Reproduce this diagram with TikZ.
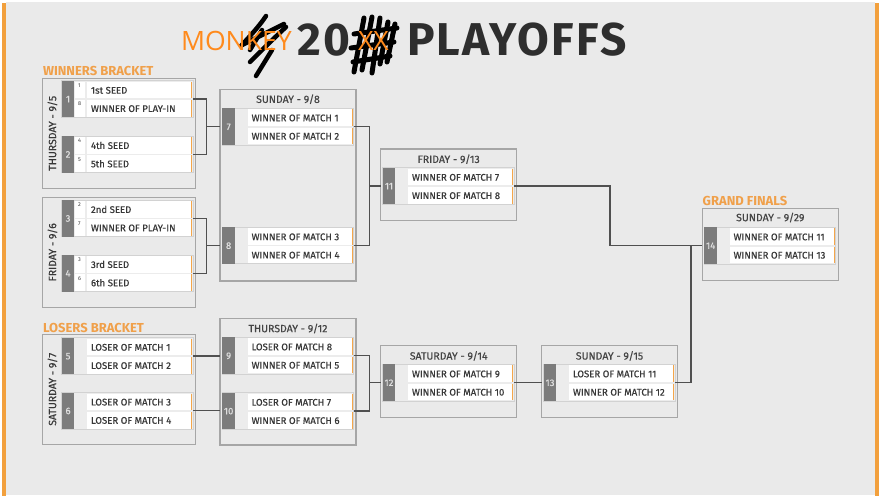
\documentclass[tikz,border=0pt]{standalone}
\usepackage{fontspec}
\setmainfont{Fira Sans}
\newfontfamily\monkeyfont{Open Sans}
\newfontfamily\cellfont[FakeBold=0.5]{Fira Sans}
\newfontfamily\titlefont[LetterSpace=5]{Fira Sans}
\usetikzlibrary{calc}
\definecolor{bgc}{HTML}{EAEAEA}
\definecolor{orangebar}{HTML}{F2A03D}
\definecolor{titleorange}{HTML}{FF8A1C}
\definecolor{hdrorange}{HTML}{F0A04A}
\definecolor{boxline}{HTML}{A6A6A6}
\definecolor{grpline}{HTML}{D2D2D2}
\definecolor{grpfill}{HTML}{ECECEC}
\definecolor{tabc}{HTML}{7C7C7C}
\definecolor{textc}{HTML}{383838}
\definecolor{hdrc}{HTML}{444444}
\definecolor{connc}{HTML}{505050}
\definecolor{titlec}{HTML}{2E2E2E}
\definecolor{celloran}{HTML}{F4A64A}

\tikzset{
  daybox/.style={draw=boxline, line width=1.3pt, fill=bgc, rectangle, anchor=north west},
  grp/.style={draw=grpline, line width=0.8pt, fill=grpfill, rectangle, minimum width=131.5pt, minimum height=36.7pt},
  tabn/.style={fill=tabc, rectangle, minimum width=12.7pt, minimum height=36.7pt, text=white!88!black, font=\cellfont\fontsize{9.5}{10}\selectfont, text height=6.6pt, text depth=0pt},
  cellbg/.style={fill=white, rectangle, minimum width=104.7pt, minimum height=16.7pt},
  seedbg/.style={fill=white, rectangle, minimum width=10.3pt, minimum height=16.7pt},
  celltxt/.style={text=textc, font=\cellfont\fontsize{9.6}{10}\selectfont},
  seedtxt/.style={text=textc, font=\fontsize{5.5}{6}\selectfont, anchor=north west},
  hdr/.style={text=hdrc, font=\cellfont\fontsize{10.5}{11}\selectfont, anchor=base},
  rotlbl/.style={text=textc, font=\cellfont\fontsize{10.5}{11}\selectfont, rotate=90, text height=7.3pt, text depth=0pt},
  brk/.style={text=hdrorange, font=\bfseries\fontsize{13}{14}\selectfont, anchor=base west},
  obar/.style={draw=celloran, line width=1.5pt},
  conn/.style={draw=connc, line width=1.2pt},
  scrib/.style={draw=black, line width=4.5pt, line cap=round, line join=round},
  ttl/.style={anchor=base west, text=titlec, font=\titlefont\bfseries\fontsize{46}{47}\selectfont},
  mky/.style={anchor=base west, text=titleorange, font=\monkeyfont\fontsize{26.6}{27}\selectfont},
}

\newcommand\mymatch[6]{%
  \node[grp, anchor=north west] (#1) at (#2,#3) {};
  \node[tabn, anchor=north west] (#1n) at (#1.north west) {#4};
  \node[cellbg, anchor=north west] (#1a) at ($(#1.north west)+(25.3,1)$) {};
  \node[cellbg, anchor=north west] (#1b) at ($(#1.north west)+(25.3,19.3)$) {};
  \node[celltxt, anchor=base west] (#1at) at ($(#1a.west)+(4,3.6)$) {#5};
  \node[celltxt, anchor=base west] (#1bt) at ($(#1b.west)+(4,3.6)$) {#6};
  \draw[obar] (#1a.north east) -- (#1a.south east);
  \draw[obar] (#1b.north east) -- (#1b.south east);
}
\newcommand\myseeds[3]{%
  \node[seedbg, anchor=north west] (#1sa) at ($(#1.north west)+(13.3,1)$) {};
  \node[seedbg, anchor=north west] (#1sb) at ($(#1.north west)+(13.3,19.3)$) {};
  \node[seedtxt] (#1sat) at ($(#1sa.north west)+(3,2.2)$) {#2};
  \node[seedtxt] (#1sbt) at ($(#1sb.north west)+(3,2.2)$) {#3};
}

\begin{document}
\begin{tikzpicture}[x=1pt,y=-1pt, every node/.style={inner sep=0pt, outer sep=0pt}]
\useasboundingbox (0,0) rectangle (879,497);
\fill[white] (0,0) rectangle (879,497);
\fill[bgc] (6,2) rectangle (875,495);
\fill[orangebar] (2,3) rectangle (6,496);
\fill[orangebar] (875,3) rectangle (878.5,496);

% title scribbles
\draw[scrib] (266,16) .. controls (258,28) and (248,38) .. (241,46);
\draw[scrib] (242,45) -- (284,24);
\draw[scrib] (286,27) .. controls (272,40) and (260,52) .. (250,62);
\draw[scrib] (272,50) -- (256,76);
\draw[scrib] (262,30) -- (250,50);
\draw[scrib, line width=5pt] (364,18) -- (354,72);
\draw[scrib, line width=5pt] (372,17) -- (362,70);
\draw[scrib, line width=5pt] (380,18) -- (372,73);
\draw[scrib, line width=5pt] (395,24) -- (387,62);
\draw[scrib, line width=5pt] (388,22) -- (380,64);
\draw[scrib, line width=5pt] (354,34) -- (397,28);
\draw[scrib, line width=5pt] (351,48) -- (394,42);
\draw[scrib, line width=5pt] (353,62) -- (390,56);

% title
\node[ttl] (t20) at (297,56) {20};
\node[ttl] (tplay) at (407,56) {PLAYOFFS};
\node[mky] (tmonkey) at (181,50.7) {MONKEY};
\node[mky] (txx) at (358,50.7) {XX};

% bracket labels
\node[brk] (lwin) at (43,76) {WINNERS BRACKET};
\node[brk] (llos) at (43,332.5) {LOSERS BRACKET};
\node[brk] (lgf) at (702.7,206) {GRAND FINALS};

% day boxes
\node[daybox, minimum width=153pt, minimum height=110pt] (thu95) at (42.7,78.3) {};
\node[daybox, minimum width=153pt, minimum height=110pt] (fri96) at (42.7,197.3) {};
\node[daybox, minimum width=153pt, minimum height=110pt] (sat97) at (42.7,334.3) {};
\node[daybox, minimum width=136pt, minimum height=191.7pt] (sun98) at (220,89.3) {};
\node[daybox, minimum width=136pt, minimum height=126.7pt] (thu912) at (220,318.3) {};
\node[daybox, minimum width=136pt, minimum height=71.7pt] (fri913) at (380.7,149) {};
\node[daybox, minimum width=136pt, minimum height=72pt] (sat914) at (380.7,345.7) {};
\node[daybox, minimum width=136pt, minimum height=72pt] (sun915) at (541.7,345.7) {};
\node[daybox, minimum width=136pt, minimum height=72.4pt] (gf) at (702.3,208.3) {};

% day labels
\node[rotlbl] (lthu95) at (52.5,133.3) {THURSDAY - 9/5};
\node[rotlbl] (lfri96) at (52.5,252.3) {FRIDAY - 9/6};
\node[rotlbl] (lsat97) at (52.5,389.3) {SATURDAY - 9/7};
\node[hdr] (hsun98) at (288,102.9) {SUNDAY - 9/8};
\node[hdr] (hthu912) at (288,332.2) {THURSDAY - 9/12};
\node[hdr] (hfri913) at (448.7,162.9) {FRIDAY - 9/13};
\node[hdr] (hsat914) at (448.7,359.6) {SATURDAY - 9/14};
\node[hdr] (hsun915) at (609.5,359.6) {SUNDAY - 9/15};
\node[hdr] (hgf) at (770.3,221.2) {SUNDAY - 9/29};

% matches
\mymatch{m1}{61.7}{80.7}{1}{1st SEED}{WINNER OF PLAY-IN}
\myseeds{m1}{1}{8}
\mymatch{m2}{61.7}{136}{2}{4th SEED}{5th SEED}
\myseeds{m2}{4}{5}
\mymatch{m3}{61.7}{200}{3}{2nd SEED}{WINNER OF PLAY-IN}
\myseeds{m3}{2}{7}
\mymatch{m4}{61.7}{255}{4}{3rd SEED}{6th SEED}
\myseeds{m4}{3}{6}
\mymatch{m5}{61.7}{337.7}{5}{LOSER OF MATCH 1}{LOSER OF MATCH 2}
\mymatch{m6}{61.7}{392.5}{6}{LOSER OF MATCH 3}{LOSER OF MATCH 4}
\mymatch{m7}{222.3}{108.3}{7}{WINNER OF MATCH 1}{WINNER OF MATCH 2}
\mymatch{m8}{222.3}{227.2}{8}{WINNER OF MATCH 3}{WINNER OF MATCH 4}
\mymatch{m9}{222.3}{337.3}{9}{LOSER OF MATCH 8}{WINNER OF MATCH 5}
\mymatch{m10}{222.3}{392.7}{10}{LOSER OF MATCH 7}{WINNER OF MATCH 6}
\mymatch{m11}{382.7}{167.7}{11}{WINNER OF MATCH 7}{WINNER OF MATCH 8}
\mymatch{m12}{382.7}{364.3}{12}{WINNER OF MATCH 9}{WINNER OF MATCH 10}
\mymatch{m13}{543.7}{364.3}{13}{LOSER OF MATCH 11}{WINNER OF MATCH 12}
\mymatch{m14}{704.3}{227.3}{14}{WINNER OF MATCH 11}{WINNER OF MATCH 13}

% connectors
\draw[conn] (m1.east) -- ++(13.2,0) coordinate (j12) |- (m2.east);
\draw[conn] (j12 |- m7.west) -- (sun98.west |- m7.west);
\draw[conn] (m3.east) -- ++(13.2,0) coordinate (j34) |- (m4.east);
\draw[conn] (j34 |- m8.west) -- (sun98.west |- m8.west);
\draw[conn] (m5.east) -- (thu912.west |- m5.east);
\draw[conn] (m6.east) -- (thu912.west |- m6.east);
\draw[conn] (m7.east) -- ++(15.3,0) coordinate (j78) |- (m8.east);
\draw[conn] (j78 |- m11.west) -- (fri913.west |- m11.west);
\draw[conn] (m9.east) -- ++(15.3,0) coordinate (j910) |- (m10.east);
\draw[conn] (j910 |- m12.west) -- (sat914.west |- m12.west);
\draw[conn] (m12.east) -- (sun915.west |- m12.east);
\coordinate (k11) at (610,0);
\coordinate (k13) at (691,0);
\draw[conn] (m11.east) -| (k11 |- m14.west) -- (gf.west |- m14.west);
\draw[conn] (m13.east) -| (k13 |- m14.west);
\end{tikzpicture}
\end{document}
